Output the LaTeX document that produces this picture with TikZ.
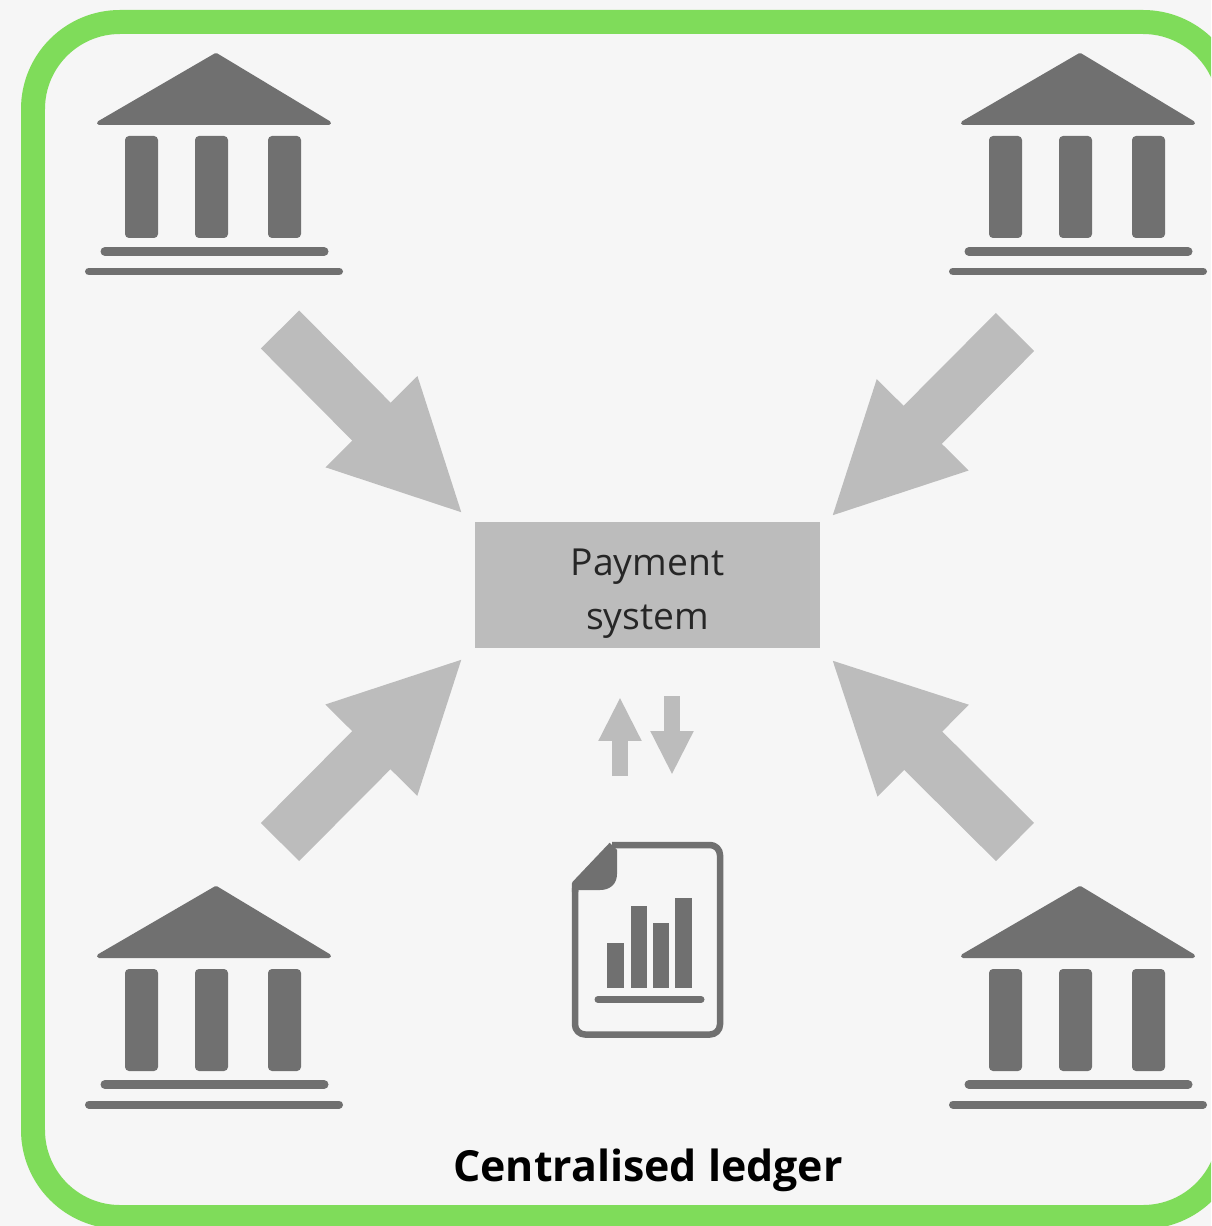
\documentclass[tikz,border=0pt]{standalone}
\usepackage{fontspec}
\setmainfont{Open Sans}
\usetikzlibrary{arrows.meta,arrows}

\definecolor{framegreen}{HTML}{7FDC5A}
\definecolor{paper}{HTML}{F6F6F6}
\definecolor{iconGray}{HTML}{707070}
\definecolor{flowGray}{HTML}{BCBCBC}

\tikzset{
    bank/.pic={
        \fill[iconGray, draw=iconGray, line width=.08cm, line join=round] (0,2) -- (-117,70) -- (113,70) -- cycle;
        \fill[iconGray, rounded corners=.08cm] (-91,83) rectangle (-58,185);
        \fill[iconGray, rounded corners=.08cm] (-21,83) rectangle (12,185);
        \fill[iconGray, rounded corners=.08cm] (52,83) rectangle (85,185);
        \draw[iconGray, line width=.18cm, line cap=round] (-111,198.5) -- (108,198.5);
        \draw[iconGray, line width=.16cm, line cap=round] (-127,218.5) -- (123,218.5);
    }
}

\begin{document}
\begin{tikzpicture}[x=0.02cm, y=-0.02cm, >={Triangle[length=2.62cm, width=2.38cm]}]

        \useasboundingbox (0,0) rectangle (1211,1226);
        \clip (0,0) rectangle (1211,1226);
        \fill[paper] (0,0) rectangle (1211,1226);

        % Frame
        \draw[framegreen, line width=.48cm, rounded corners=1.74cm] (33,22) rectangle (1230,1217);

        % Banks
        \pic (bankA) at (216,53) {bank};
        \pic (bankB) at (1080,53) {bank};
        \pic (bankC) at (216,886) {bank};
        \pic (bankD) at (1080,886) {bank};

        % Payment system
        \node at (647.5,585) [fill=flowGray, minimum width=6.9cm, minimum height=2.52cm, inner sep=0pt, align=center, text=black!85, font=\fontsize{21.2}{30.6}\selectfont] (pay) {\rule{0pt}{25pt}Payment\\system};

        % Free ends of the arrows
        \coordinate (tailA) at (280,329.5);
        \coordinate (tailB) at (1015,332);
        \coordinate (tailC) at (280,842);
        \coordinate (tailD) at (1015,842);
        \coordinate (docUp) at (620,776);
        \coordinate (docDown) at (672,775);

        % Arrows
        \draw[->, flowGray, line width=1.08cm] (tailA) -- ([shift={(-11,-7)}]pay.north west);
        \draw[->, flowGray, line width=1.08cm] (tailB) -- ([shift={(10,-4)}]pay.north east);
        \draw[->, flowGray, line width=1.08cm] (tailC) -- ([shift={(-11,9)}]pay.south west);
        \draw[->, flowGray, line width=1.08cm] (tailD) -- ([shift={(10,10)}]pay.south east);

        % Arrows to and from the ledger
        \draw[-{Triangle[length=.88cm, width=.8cm]}, flowGray, line width=.32cm] (docUp) -- (620,697);
        \draw[-{Triangle[length=.88cm, width=.8cm]}, flowGray, line width=.32cm] (672,696) -- (docDown);

        % Document
        \draw[iconGray, line width=.13cm, line join=round, rounded corners=.2cm] (575,888) -- (575,1034.5) -- (720,1034.5) -- (720,845) -- (612,845);
        \draw[iconGray, line width=.13cm, line join=round] (612,845) -- (575,884) -- (575,892);
        \fill[iconGray] (612,845) -- (617,850) -- (617,874) .. controls (617,884) and (610,890) .. (600,890) -- (572,890) -- (572,884) -- cycle;

        % Bars
        \fill[iconGray] (607,943) rectangle (624,988);
        \fill[iconGray] (631,906) rectangle (647,988);
        \fill[iconGray] (653,923) rectangle (669,988);
        \fill[iconGray] (675,898) rectangle (692,988);
        \draw[iconGray, line width=.14cm, line cap=round] (598,999.5) -- (701,999.5);

        % Caption
        \node at (648,1170) [font=\fontsize{24.4}{30}\selectfont\bfseries, text=black] (caption) {Centralised ledger};

\end{tikzpicture}
\end{document}
